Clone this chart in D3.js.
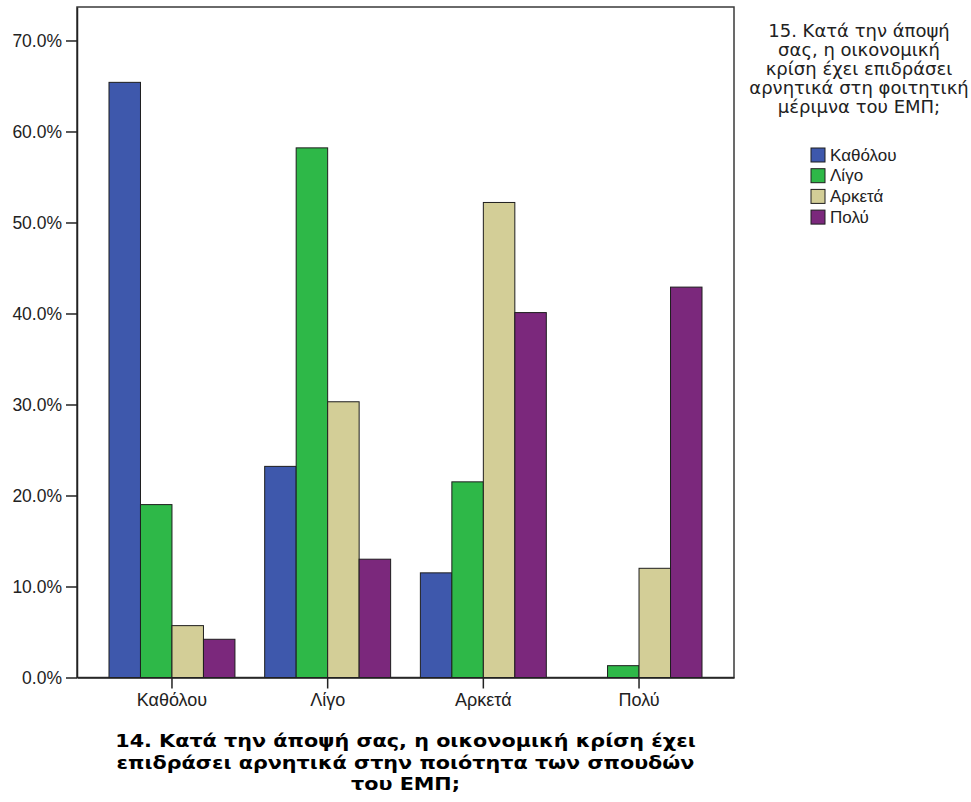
<!DOCTYPE html>
<html>
<head>
<meta charset="utf-8">
<script src="https://cdn.jsdelivr.net/npm/d3@7"></script>
<style>
  html, body { margin: 0; padding: 0; background: #fff; }
  svg { display: block; font-family: "Liberation Sans", Arial, sans-serif; }
</style>
</head>
<body>
<svg id="chart" width="971" height="802"></svg>
<script>
// ---- data ----
const categories = ["Καθόλου", "Λίγο", "Αρκετά", "Πολύ"];
const seriesNames = ["Καθόλου", "Λίγο", "Αρκετά", "Πολύ"];
const seriesColors = ["#3E58AC", "#2EB848", "#D3CE97", "#7B287C"];
// values[series][category] as fractions
const valKatholou = [0.654, 0.232, 0.115, 0.000];
const valLigo     = [0.190, 0.582, 0.215, 0.013];
const valArketa   = [0.057, 0.303, 0.522, 0.120];
const valPolu     = [0.042, 0.130, 0.401, 0.429];
const yTicks = [0, 0.1, 0.2, 0.3, 0.4, 0.5, 0.6, 0.7];
const xTitleLines = [
  "14. Κατά την άποψή σας, η οικονομική κρίση έχει",
  "επιδράσει αρνητικά στην ποιότητα των σπουδών",
  "του ΕΜΠ;"
];
const legendTitleLines = [
  "15. Κατά την άποψή",
  "σας, η οικονομική",
  "κρίση έχει επιδράσει",
  "αρνητικά στη φοιτητική",
  "μέριμνα του ΕΜΠ;"
];

const seriesValues = [valKatholou, valLigo, valArketa, valPolu];

// ---- layout ----
const L = 77, R = 734, T = 7, B = 677.5;
const svg = d3.select("#chart");

const x0 = d3.scaleBand().domain(categories).range([L, R])
  .paddingInner(0.191).paddingOuter(0.2055);
const x1 = d3.scaleBand().domain(seriesNames).range([0, x0.bandwidth()]);
const y = d3.scaleLinear().domain([0, 0.7368]).range([B, T]);
const color = d3.scaleOrdinal().domain(seriesNames).range(seriesColors);

// frame
svg.append("rect")
  .attr("x", L).attr("y", T).attr("width", R - L).attr("height", B - T)
  .attr("fill", "#fff").attr("stroke", "#3a3a3a").attr("stroke-width", 1.5);

// bars
const cells = [];
categories.forEach((c, ci) => {
  seriesNames.forEach((s, si) => {
    cells.push({ cat: c, ser: s, v: seriesValues[si][ci] });
  });
});
svg.append("g").selectAll("rect").data(cells).join("rect")
  .attr("x", d => x0(d.cat) + x1(d.ser))
  .attr("y", d => y(d.v))
  .attr("width", x1.bandwidth())
  .attr("height", d => y(0) - y(d.v))
  .attr("fill", d => color(d.ser))
  .attr("stroke", "#1e1e1e")
  .attr("stroke-width", 1);

// y axis
const yAxis = d3.axisLeft(y).tickValues(yTicks).tickFormat(d3.format(".1%"))
  .tickSizeInner(11).tickSizeOuter(0).tickPadding(4);
const gy = svg.append("g").attr("transform", `translate(${L},0)`).call(yAxis);
gy.select(".domain").attr("stroke", "#222").attr("stroke-width", 1.5);
gy.selectAll(".tick line").attr("stroke", "#222").attr("stroke-width", 1.5);
gy.selectAll(".tick text").attr("font-size", 17.5).attr("fill", "#222")
  .attr("font-family", "Liberation Sans, Arial, sans-serif");

// x axis
const xAxis = d3.axisBottom(x0).tickSizeInner(11).tickSizeOuter(0).tickPadding(5);
const gx = svg.append("g").attr("transform", `translate(0,${B})`).call(xAxis);
gx.select(".domain").attr("stroke", "#222").attr("stroke-width", 1.5);
gx.selectAll(".tick line").attr("stroke", "#222").attr("stroke-width", 1.5);
gx.selectAll(".tick text").attr("font-size", 18).attr("fill", "#222")
  .attr("font-family", "Liberation Sans, Arial, sans-serif");

// x title (slightly widened bold face)
const cx = (L + R) / 2;
svg.append("g").selectAll("text").data(xTitleLines).join("text")
  .attr("transform", (d, i) => `translate(${cx},${747 + i * 21.5}) scale(1.12,1)`)
  .attr("text-anchor", "middle")
  .attr("font-family", "DejaVu Sans, Verdana, sans-serif")
  .attr("font-size", 18.5).attr("font-weight", "bold").attr("fill", "#000")
  .text(d => d);

// legend
const lgX = 859;
svg.append("g").selectAll("text").data(legendTitleLines).join("text")
  .attr("x", lgX).attr("y", (d, i) => 37 + i * 19)
  .attr("text-anchor", "middle")
  .attr("font-family", "DejaVu Sans, Verdana, sans-serif")
  .attr("font-size", 18).attr("fill", "#222")
  .text(d => d);

const lg = svg.append("g").selectAll("g").data(seriesNames).join("g")
  .attr("transform", (d, i) => `translate(811,${148 + i * 20.7})`);
lg.append("rect").attr("width", 14).attr("height", 14)
  .attr("fill", d => color(d)).attr("stroke", "#1e1e1e").attr("stroke-width", 1);
lg.append("text").attr("x", 19).attr("y", 12.5)
  .attr("font-size", 17).attr("fill", "#222").text(d => d);
</script>
</body>
</html>
